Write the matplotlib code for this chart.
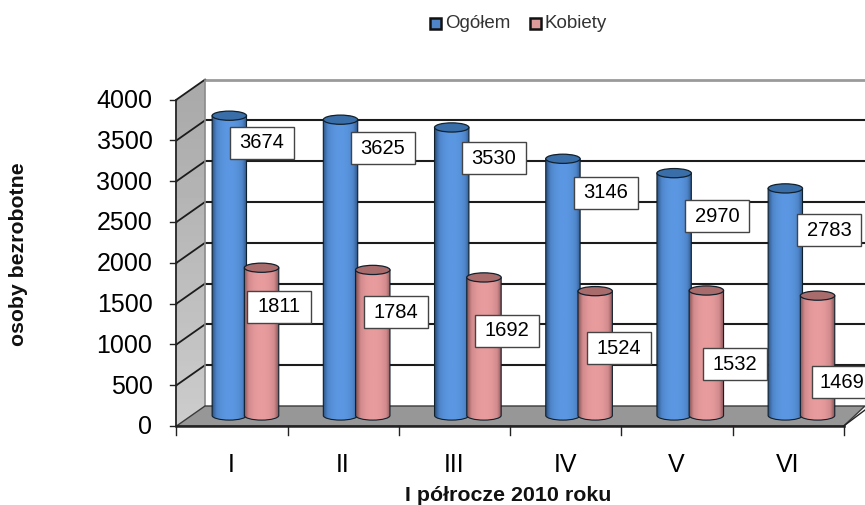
import matplotlib
matplotlib.use("Agg")
import matplotlib.pyplot as plt
import numpy as np
from matplotlib.colors import LinearSegmentedColormap
from matplotlib.patches import Ellipse, PathPatch, Polygon, Rectangle
from matplotlib.path import Path

categories = ["I", "II", "III", "IV", "V", "VI"]
ogolem = [3674, 3625, 3530, 3146, 2970, 2783]
kobiety = [1811, 1784, 1692, 1524, 1532, 1469]
y_ticks = [0, 500, 1000, 1500, 2000, 2500, 3000, 3500, 4000]
series_names = ["Ogółem", "Kobiety"]
x_title = "I półrocze 2010 roku"
y_title = "osoby bezrobotne"

W, H = 865, 505
PX_PER_CAT = 111.2
PX_PER_VAL = 0.0816
X0, Y0 = 176.5, 426.0
DX, DY = 28.5, -20.0

plt.rcParams["font.family"] = ["Liberation Sans", "DejaVu Sans"]
fig = plt.figure(figsize=(W / 100, H / 100), dpi=100)
ax = fig.add_axes([0, 0, 1, 1])
ax.set_xlim(-X0 / PX_PER_CAT, (W - X0) / PX_PER_CAT)
ax.set_ylim((Y0 - H) / PX_PER_VAL, Y0 / PX_PER_VAL)
ax.axis("off")

sx = 1 / PX_PER_CAT
sy = 1 / PX_PER_VAL
ddx, ddy = DX * sx, -DY * sy
xmax = (W - X0) * sx
top = y_ticks[-1]

# walls and floor
ax.add_patch(Rectangle((ddx, ddy), xmax, top, fc="white", ec="none", zorder=1))
side = Polygon([(0, 0), (ddx, ddy), (ddx, ddy + top), (0, top)], closed=True, fc="none", ec="none", zorder=1)
ax.add_patch(side)
im = ax.imshow(np.linspace(0.66, 0.80, 64).reshape(-1, 1), cmap="gray", vmin=0, vmax=1,
               extent=(0, ddx, 0, ddy + top), aspect="auto", zorder=1)
im.set_clip_path(side)
ax.add_patch(Polygon([(0, 0), (ddx, ddy), (xmax, ddy), (6, 0)], closed=True, fc="#979797", ec="#3a3a3a", lw=1.0, zorder=2))
ax.plot([6, xmax], [0, 16 * sy], color="#222222", lw=1.0, zorder=2)

# grid
for v in y_ticks[1:]:
    gc, glw = ("#9a9a9a", 2.0) if v == top else ("#1c1c1c", 1.5)
    ax.plot([ddx, xmax], [v + ddy, v + ddy], color=gc, lw=glw, zorder=1.5, solid_capstyle="butt")
    ax.plot([0, ddx], [v, v + ddy], color="#1c1c1c", lw=1.3, zorder=1.5)
ax.plot([ddx, ddx], [ddy, top + ddy], color="#8a8a8a", lw=1.2, zorder=1.5)
ax.plot([0, 0], [0, top], color="#222222", lw=1.3, zorder=3)
ax.plot([0, 6], [0, 0], color="#222222", lw=1.8, zorder=3)

# ticks and labels
for v in y_ticks:
    ax.plot([-6 * sx, 0], [v, v], color="#222222", lw=1.0, zorder=3)
    ax.text(-24 * sx, v - 1.5 * sy, str(v), ha="right", va="center", fontsize=18, color="black")
for i, c in enumerate(categories):
    ax.text(i + 0.495, -38.5 * sy, c, ha="center", va="center", fontsize=18, color="black")
for i in range(7):
    ax.plot([i, i], [0, -9 * sy], color="#222222", lw=1.0, zorder=3)

ax.text((508 - X0) * sx, (Y0 - 495.5) * sy, x_title, ha="center", va="center",
        fontsize=15.4, fontweight="bold", color="#111111")
ax.text((19 - X0) * sx, (Y0 - 254) * sy, y_title, ha="center", va="center", rotation=90,
        fontsize=15.3, fontweight="bold", color="#111111")


def cylinder(xc, value, cmap, top_color, z):
    hw = 17.2 * sx
    eh = 4.6 * sy
    base = 10.5 * sy
    t = base + value
    k = 0.5523
    verts = [(xc - hw, t), (xc - hw, base),
             (xc - hw, base - k * eh), (xc - k * hw, base - eh), (xc, base - eh),
             (xc + k * hw, base - eh), (xc + hw, base - k * eh), (xc + hw, base),
             (xc + hw, t), (xc - hw, t)]
    codes = [Path.MOVETO, Path.LINETO, Path.CURVE4, Path.CURVE4, Path.CURVE4,
             Path.CURVE4, Path.CURVE4, Path.CURVE4, Path.LINETO, Path.CLOSEPOLY]
    body = PathPatch(Path(verts, codes), fc="none", ec="#10202c", lw=0.8, zorder=z + 0.2)
    ax.add_patch(body)
    grad = np.abs(np.linspace(-1, 1, 128)).reshape(1, -1) ** 2.2
    img = ax.imshow(grad, cmap=cmap, vmin=0, vmax=1, extent=(xc - hw, xc + hw, base - eh, t),
                    aspect="auto", zorder=z)
    img.set_clip_path(body)
    ax.add_patch(Ellipse((xc, t), 2 * hw, 2 * eh, fc=top_color, ec="#10202c", lw=0.9, zorder=z + 0.3))


blue = LinearSegmentedColormap.from_list("b", ["#5b97e2", "#4f86ca", "#2a4f7e"])
pink = LinearSegmentedColormap.from_list("p", ["#e89c9e", "#d28a8c", "#7f5051"])
for i in range(len(categories)):
    cylinder(i + 0.475, ogolem[i], blue, "#3a6ea8", 4 + i)
for i in range(len(categories)):
    cylinder(i + 0.765, kobiety[i], pink, "#a86c6c", 5 + i)

# value label boxes: box centre x, centre y, text centre x
label_px = [(262, 143, 262), (383, 148, 383), (494, 158, 494), (606, 193, 606), (717, 216, 717), (829, 230, 829)]
label_px2 = [(279, 307, 279), (396, 312, 396), (507, 331, 507), (619, 348, 619), (735, 364, 735), (844, 382, 842)]
for vals, pos in ((ogolem, label_px), (kobiety, label_px2)):
    for val, (px, py, tx) in zip(vals, pos):
        ax.add_patch(Rectangle(((px - 32 - X0) * sx, (Y0 - py - 16) * sy), 64 * sx, 32 * sy,
                               fc="white", ec="#444444", lw=1.0, zorder=19, clip_on=True))
        ax.text((tx - X0) * sx, (Y0 - py) * sy, str(val), ha="center", va="center", fontsize=14.5,
                color="black", zorder=20)

# legend
for (px, name, col) in ((436, series_names[0], "#4f86ca"), (536, series_names[1], "#de9a9a")):
    ax.add_patch(Rectangle(((px - 5.5 - X0) * sx, (Y0 - 28.5) * sy), 11 * sx, 11 * sy, fc=col, ec="#111111", lw=1.8, zorder=20))
    ax.text((px + 9 - X0) * sx, (Y0 - 23) * sy, name, ha="left", va="center", fontsize=13.5, color="#333333")

ax.set_xlim(-X0 / PX_PER_CAT, (W - X0) / PX_PER_CAT)
ax.set_ylim((Y0 - H) / PX_PER_VAL, Y0 / PX_PER_VAL)
fig.savefig("out.png", dpi=100)
